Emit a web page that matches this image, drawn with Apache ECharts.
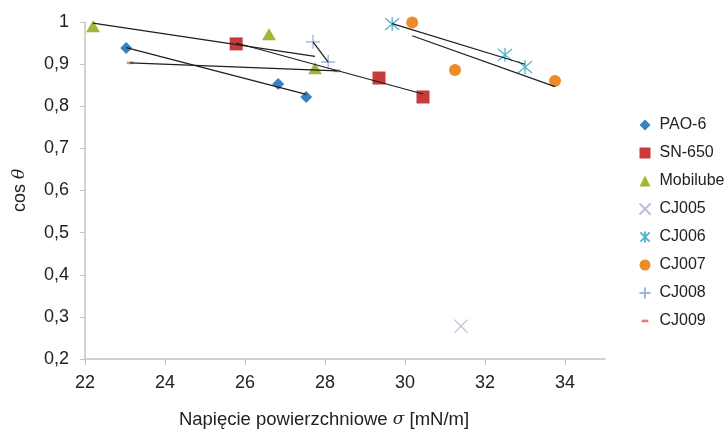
<!DOCTYPE html>
<html>
<head>
<meta charset="utf-8">
<script src="https://cdn.jsdelivr.net/npm/echarts@6/dist/echarts.min.js"></script>
<style>
  html, body { margin: 0; padding: 0; background: #fff; }
  #chart { width: 725px; height: 430px; }
</style>
</head>
<body>
<div id="chart"></div>
<script>
// wartości
const seriesNames = ["PAO-6", "SN-650", "Mobilube", "CJ005", "CJ006", "CJ007", "CJ008", "CJ009"];
const pao6X = [23.03, 26.83, 27.53];
const pao6Y = [0.938, 0.853, 0.822];
const sn650X = [25.78, 29.35, 30.45];
const sn650Y = [0.948, 0.867, 0.822];
const mobiluneX = [22.2, 26.6, 27.75];
const mobiluneY = [0.99, 0.971, 0.89];
const cj005X = [31.4];
const cj005Y = [0.278];
const cj006X = [29.68, 32.5, 33.0];
const cj006Y = [0.995, 0.922, 0.893];
const cj007X = [30.18, 31.25, 33.75];
const cj007Y = [0.999, 0.886, 0.86];
const cj008X = [27.7, 28.08];
const cj008Y = [0.953, 0.905];
const cj009X = [23.13, 28.3];
const cj009Y = [0.903, 0.884];
const xTicks = [22, 24, 26, 28, 30, 32, 34];

const FONT = "'Liberation Sans Narrow', 'Liberation Sans', Arial, sans-serif";

const pts = (xs, ys) => xs.map((x, i) => [x, ys[i]]);

// linia trendu (regresja liniowa) w zakresie x danej serii
function trend(xs, ys) {
  const n = xs.length;
  const mx = xs.reduce((a, b) => a + b, 0) / n;
  const my = ys.reduce((a, b) => a + b, 0) / n;
  let sxy = 0, sxx = 0;
  for (let i = 0; i < n; i++) {
    sxy += (xs[i] - mx) * (ys[i] - my);
    sxx += (xs[i] - mx) * (xs[i] - mx);
  }
  const b = sxy / sxx;
  const x0 = Math.min(...xs), x1 = Math.max(...xs);
  return [[x0, my + b * (x0 - mx)], [x1, my + b * (x1 - mx)]];
}

const strokeStyle = (c) => ({ color: "none", borderColor: c, borderWidth: 1.3, opacity: 1 });
const fillStyle = (c) => ({ color: c, opacity: 1 });

const scatter = [
  { name: "PAO-6", data: pts(pao6X, pao6Y), symbol: "diamond", symbolSize: 12, itemStyle: fillStyle("#3a80c2") },
  { name: "SN-650", data: pts(sn650X, sn650Y), symbol: "rect", symbolSize: 13, itemStyle: fillStyle("#c73b3c") },
  { name: "Mobilube", data: pts(mobiluneX, mobiluneY), symbol: "triangle", symbolSize: [14, 12], itemStyle: fillStyle("#a7b534") },
  { name: "CJ005", data: pts(cj005X, cj005Y), symbol: "path://M0,0L10,10M10,0L0,10", symbolSize: 13, itemStyle: strokeStyle("#c3b9d8") },
  { name: "CJ006", data: pts(cj006X, cj006Y), symbol: "path://M0,0L10,10M10,0L0,10M5,-1L5,11", symbolSize: 14, itemStyle: strokeStyle("#56b3cb") },
  { name: "CJ007", data: pts(cj007X, cj007Y), symbol: "circle", symbolSize: 12, itemStyle: fillStyle("#ee8b2b") },
  { name: "CJ008", data: pts(cj008X, cj008Y), symbol: "path://M5,0L5,10M0,5L10,5", symbolSize: 14, itemStyle: strokeStyle("#9ab5dc") },
  { name: "CJ009", data: pts(cj009X, cj009Y), symbol: "path://M0,0M10,10M2,3.8h6v2.4h-6z", symbolSize: 11, itemStyle: fillStyle("#e47f7f") }
].map(s => Object.assign({ type: "scatter", z: 2 }, s));

const trends = [
  [pao6X, pao6Y], [sn650X, sn650Y], [mobiluneX, mobiluneY], [cj006X, cj006Y],
  [cj007X, cj007Y], [cj008X, cj008Y], [cj009X, cj009Y]
].map(([xs, ys]) => ({
  type: "line",
  data: trend(xs, ys),
  symbol: "none",
  silent: true,
  z: 3,
  lineStyle: { color: "#1e1e1e", width: 1.2 }
}));

const richItalic = { i: { fontFamily: "'DejaVu Serif', serif", fontStyle: "italic", fontSize: 17, color: "#222" } };

const chart = echarts.init(document.getElementById("chart"));
chart.setOption({
  animation: false,
  grid: { left: 85, right: 120, top: 22, bottom: 71, containLabel: false, outerBoundsMode: "none" },
  legend: {
    data: seriesNames,
    orient: "vertical",
    left: 637,
    top: 115,
    padding: 0,
    itemWidth: 11,
    itemHeight: 11,
    itemGap: 8,
    textStyle: { fontFamily: FONT, fontSize: 16, color: "#222", lineHeight: 20, padding: [0, 0, 0, 4] }
  },
  xAxis: {
    type: "value",
    min: 22,
    max: 35,
    interval: 1,
    name: "Napięcie powierzchniowe {i|σ} [mN/m]",
    nameLocation: "middle",
    nameGap: 51,
    nameTextStyle: { fontFamily: FONT, fontSize: 18.5, color: "#222", rich: richItalic, padding: [0, 42, 0, 0] },
    axisLine: { lineStyle: { color: "#c4c4c4", width: 1.5 } },
    axisTick: { show: true, length: 6, customValues: xTicks, lineStyle: { color: "#c4c4c4" } },
    axisLabel: { customValues: xTicks, margin: 15, fontFamily: FONT, fontSize: 18, color: "#222" },
    splitLine: { show: false }
  },
  yAxis: {
    type: "value",
    min: 0.2,
    max: 1,
    interval: 0.1,
    name: "cos {i|θ}",
    nameLocation: "middle",
    nameGap: 56,
    nameRotate: 90,
    nameTextStyle: { fontFamily: FONT, fontSize: 18, color: "#222", rich: richItalic },
    axisLine: { show: true, lineStyle: { color: "#c4c4c4", width: 1.5 } },
    axisTick: { show: true, length: 5, lineStyle: { color: "#c4c4c4" } },
    axisLabel: {
      margin: 16, fontFamily: FONT, fontSize: 18, color: "#222",
      formatter: v => String(+v.toFixed(1)).replace(".", ",")
    },
    splitLine: { show: false }
  },
  series: scatter.concat(trends)
});
</script>
</body>
</html>
